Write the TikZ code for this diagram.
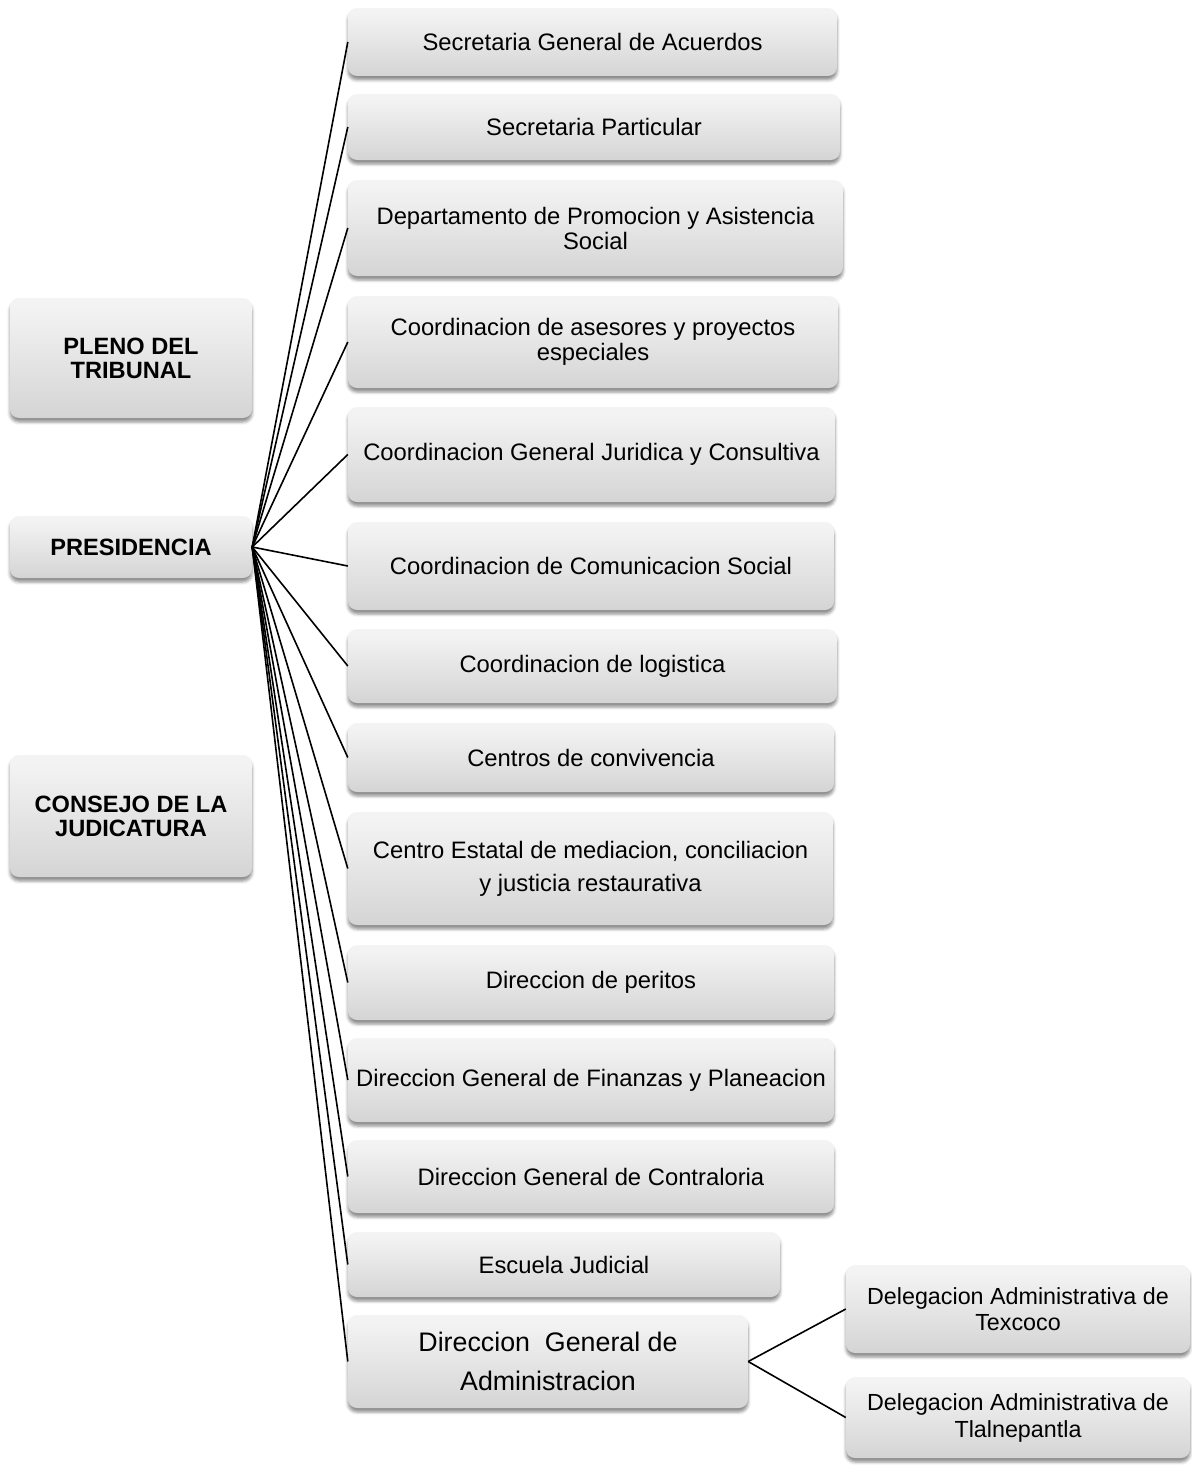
\documentclass[tikz,border=0pt]{standalone}
\usepackage{fontspec}
\setmainfont{Liberation Sans}
\usetikzlibrary{shadows.blur}
\pgfdeclareverticalshading{boxshade}{100bp}{color(0bp)=(black!24); color(35bp)=(black!14); color(70bp)=(black!5); color(100bp)=(black!2)}
\begin{document}
\begin{tikzpicture}[x=1pt,y=-1pt,
  box/.style={shape=rectangle, rounded corners=9pt, shading=boxshade, align=center, inner sep=0pt,
    blur shadow={shadow xshift=0pt, shadow yshift=-4pt, shadow blur radius=3pt, shadow opacity=45},
    font=\fontsize{23.8}{25}\selectfont},
  lbox/.style={box, font=\fontsize{23.6}{24}\selectfont\bfseries},
  conn/.style={draw=black, line width=1.6pt}]
\useasboundingbox (0,0) rectangle (1191,1469);
% left column
\node[lbox, minimum width=242pt, minimum height=120pt] (pleno) at (131,358) {PLENO DEL\\TRIBUNAL};
\node[lbox, minimum width=242pt, minimum height=62pt] (pres) at (131,547) {PRESIDENCIA};
\node[lbox, minimum width=242pt, minimum height=122pt] (consejo) at (131,816) {CONSEJO DE LA\\JUDICATURA};
% right column
\node[box, minimum width=489pt, minimum height=68pt] (b1) at (592.5,42) {Secretaria General de Acuerdos};
\node[box, minimum width=492pt, minimum height=66pt] (b2) at (594,127) {Secretaria Particular};
\node[box, minimum width=495pt, minimum height=96pt] (b3) at (595.5,228) {Departamento de Promocion y Asistencia\\Social};
\node[box, minimum width=490pt, minimum height=92pt] (b4) at (593,342) {Coordinacion de asesores y proyectos\\especiales};
\node[box, minimum width=487pt, minimum height=95pt] (b5) at (591.5,454.5) {Coordinacion General Juridica y Consultiva};
\node[box, minimum width=486pt, minimum height=88pt] (b6) at (591,566) {Coordinacion de Comunicacion Social};
\node[box, minimum width=489pt, minimum height=74pt] (b7) at (592.5,666) {Coordinacion de logistica};
\node[box, minimum width=486pt, minimum height=69pt] (b8) at (591,757.5) {Centros de convivencia};
\node[box, minimum width=485pt, minimum height=113pt, font=\fontsize{23.8}{33}\selectfont] (b9) at (590.5,868.5) {Centro Estatal de mediacion, conciliacion\\y justicia restaurativa};
\node[box, minimum width=486pt, minimum height=75pt] (b10) at (591,982.5) {Direccion de peritos};
\node[box, minimum width=486pt, minimum height=84pt] (b11) at (591,1080) {Direccion General de Finanzas y Planeacion};
\node[box, minimum width=486pt, minimum height=73pt] (b12) at (591,1176.5) {Direccion General de Contraloria};
\node[box, minimum width=432pt, minimum height=65pt] (b13) at (564,1264.5) {Escuela Judicial};
\node[box, minimum width=400pt, minimum height=93pt, font=\fontsize{26.8}{39}\selectfont] (b14) at (548,1361.5) {Direccion\ \ General de\\Administracion};
\node[box, minimum width=344pt, minimum height=88pt, font=\fontsize{23.3}{26}\selectfont] (d1) at (1018,1309) {Delegacion Administrativa de\\Texcoco};
\node[box, minimum width=344pt, minimum height=81pt, font=\fontsize{23.3}{27}\selectfont] (d2) at (1018,1417.5) {Delegacion Administrativa de\\Tlalnepantla};
% connectors
\foreach \t in {b1,b2,b3,b4,b5,b6,b7,b8,b9,b10,b11,b12,b13,b14}
  \draw[conn] (pres.east) -- (\t.west);
\draw[conn] (b14.east) -- (d1.west);
\draw[conn] (b14.east) -- (d2.west);
\end{tikzpicture}
\end{document}
